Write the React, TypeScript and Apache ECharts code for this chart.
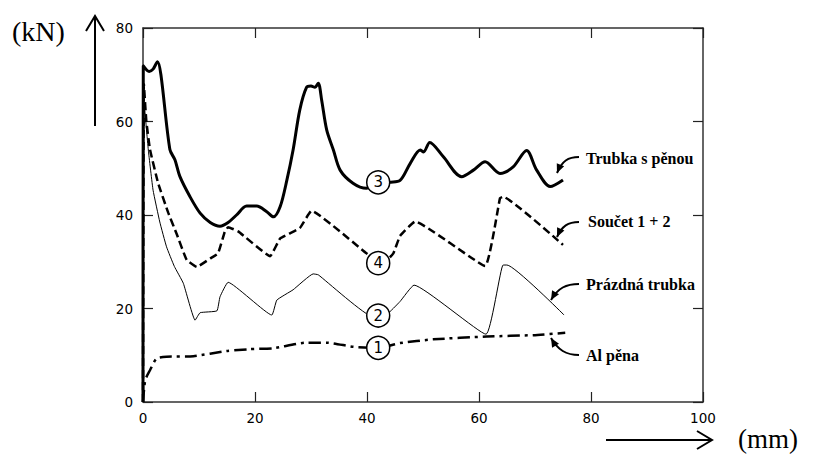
import React, { useEffect, useRef } from "react";
import * as echarts from "echarts";

// ---- data (x in mm, y in kN) ----
const foamX = [0, 0.4, 1.25, 2.4, 4.2, 9, 14.9, 19.1, 23.3, 29.2, 32.8, 37.6, 42, 45.9, 51.8, 61.4, 69.7, 75.4];
const foamY = [0, 4.7, 6.8, 9.3, 9.7, 9.8, 10.9, 11.3, 11.5, 12.7, 12.7, 11.8, 11.6, 12.6, 13.4, 14.0, 14.3, 14.8];

const emptyX = [0, 0.2, 0.95, 1.8, 3, 4.2, 5.6, 7.2, 9.3, 10.2, 13.2, 13.75, 15.2, 23, 23.9, 26.8, 30.4, 31.3, 41.1, 43.5, 45.9, 48.4, 61.25, 64.3, 65, 75.2];
const emptyY = [0, 64, 53.9, 45.3, 38.5, 33.2, 29, 25.4, 17.5, 19.1, 19.5, 22.5, 25.6, 18.6, 21.8, 24, 27.4, 27.2, 18.2, 18.7, 21.5, 25, 14.5, 29.3, 29.3, 18.6];

const filledX = [0, 0.05, 1.1, 1.8, 2.6, 3.2, 4.8, 5.7, 6.6, 8.4, 10.2, 12, 13.75, 15.2, 16.7, 18.5, 20.3, 22.1, 23.3, 24.5, 25.7, 26.8, 28, 29.2, 30, 30.7, 31.3, 31.9, 32.8, 34, 35.2, 37.5, 39.9, 42, 44, 45.9, 47.7, 49.5, 50.1, 51.2, 53.6, 56.9, 59, 61.1, 63.75, 66.1, 68.5, 70.3, 72.7, 75];
const filledY = [0, 71.9, 70.7, 71.2, 72.8, 70, 54, 51.8, 48.2, 43.9, 40.4, 38.4, 37.6, 38.4, 40, 41.9, 41.9, 40.7, 39.6, 41.8, 47.5, 53.9, 62.5, 67.3, 67.6, 67.3, 68.2, 64.6, 58.2, 53.9, 49.6, 46.8, 45.7, 46.5, 47, 47.4, 51, 53.9, 53.5, 55.5, 52.5, 48.2, 49.6, 51.4, 48.9, 50.3, 53.8, 49.6, 46.1, 47.5];

const sumX = [0, 0.15, 0.6, 1.25, 2.7, 4.5, 6, 7.8, 9.6, 12, 13.4, 14.6, 15.2, 17, 22.7, 24.5, 28, 30.1, 39.9, 42.8, 44.7, 45.9, 48.6, 61.1, 63.75, 64.3, 75];
const sumY = [0, 68, 60, 54, 46.8, 40.5, 36, 30.4, 28.9, 30.7, 31.8, 36.4, 37.4, 36.5, 31.2, 35, 37.2, 40.9, 31.8, 29.5, 31.8, 35.5, 38.6, 29.1, 43.6, 43.9, 33.6];

const circleLabels = ["1", "2", "3", "4"];
const circleX = [42, 42, 42, 42];
const circleY = [11.6, 18.5, 47, 29.7];

const seriesNames = ["Al pěna", "Prázdná trubka", "Trubka s pěnou", "Součet 1 + 2"];
const xTickLabels = [0, 20, 40, 60, 80, 100];
const yTickLabels = [0, 20, 40, 60, 80];

const zip = (xs: number[], ys: number[]) => xs.map((x, i) => [x, ys[i]]);

type P = [number, number];
function arrowHead(tip: P, from: P, len = 9, half = 4) {
  const dx = tip[0] - from[0];
  const dy = tip[1] - from[1];
  const l = Math.hypot(dx, dy) || 1;
  const ux = dx / l, uy = dy / l;
  const bx = tip[0] - ux * len, by = tip[1] - uy * len;
  const px = -uy, py = ux;
  return [tip, [bx + px * half, by + py * half], [bx - px * half, by - py * half]];
}

function curvedArrow(tail: P, c1: P, c2: P, tip: P) {
  return [
    {
      type: "bezierCurve",
      shape: { x1: tail[0], y1: tail[1], cpx1: c1[0], cpy1: c1[1], cpx2: c2[0], cpy2: c2[1], x2: tip[0], y2: tip[1] },
      style: { stroke: "#000", lineWidth: 2, fill: "none" },
      z: 10,
    },
    { type: "polygon", shape: { points: arrowHead(tip, c2) }, style: { fill: "#000" }, z: 10 },
  ];
}

const annoFont = { fontFamily: "Liberation Serif", fontWeight: "bold", fontSize: 16, fill: "#000" };

export default function App() {
  const ref = useRef<HTMLDivElement>(null);
  useEffect(() => {
    if (!ref.current) return;
    const chart = echarts.init(ref.current, null, { renderer: "svg" });
    const axisLabelStyle = { color: "#000", fontFamily: "DejaVu Sans", fontSize: 13.5 };
    const common = {
      type: "value",
      splitLine: { show: false },
      axisLine: { show: true, onZero: false, lineStyle: { color: "#333", width: 1.5 } },
      axisTick: { show: true, inside: true, length: 10, lineStyle: { color: "#222", width: 1.2 } },
    };
    chart.setOption({
      animation: false,
      backgroundColor: "#fff",
      grid: { left: 143, top: 28, width: 560, height: 374, containLabel: false },
      xAxis: [
        { ...common, position: "bottom", min: 0, max: 100, interval: 20,
          axisLabel: { ...axisLabelStyle, margin: 9, formatter: (v: number) => (xTickLabels.includes(v) ? String(v) : "") } },
        { ...common, position: "top", min: 0, max: 100, interval: 20, axisLabel: { show: false } },
      ],
      yAxis: [
        { ...common, position: "left", min: 0, max: 80, interval: 20,
          axisLabel: { ...axisLabelStyle, margin: 10, formatter: (v: number) => (yTickLabels.includes(v) ? String(v) : "") } },
        { ...common, position: "right", min: 0, max: 80, interval: 20, axisLabel: { show: false } },
      ],
      series: [
        { name: seriesNames[0], type: "line", data: zip(foamX, foamY), showSymbol: false, symbol: "none", smooth: 0.2,
          lineStyle: { color: "#000", width: 2.5, type: [12, 5, 3, 5] }, z: 3 },
        { name: seriesNames[1], type: "line", data: zip(emptyX, emptyY), showSymbol: false, symbol: "none", smooth: 0.12,
          lineStyle: { color: "#000", width: 1 }, z: 3 },
        { name: seriesNames[2], type: "line", data: zip(filledX, filledY), showSymbol: false, symbol: "none", smooth: 0.3,
          lineStyle: { color: "#000", width: 3 }, z: 3 },
        { name: seriesNames[3], type: "line", data: zip(sumX, sumY), showSymbol: false, symbol: "none", smooth: 0.1,
          lineStyle: { color: "#000", width: 2.5, type: [8, 4] }, z: 3 },
        { type: "scatter", symbol: "circle", symbolSize: 23, z: 5,
          data: circleX.map((x, i) => ({ value: [x, circleY[i]], name: circleLabels[i] })),
          itemStyle: { color: "#fff", borderColor: "#000", borderWidth: 1.5, opacity: 1 },
          label: { show: true, position: "inside", formatter: (p: any) => p.name, color: "#000",
            fontFamily: "DejaVu Sans", fontSize: 15 } },
      ],
      graphic: [
        // axis quantity labels and arrows
        { type: "text", left: 12, top: 17, style: { text: "(kN)", fontFamily: "Liberation Serif", fontSize: 28, fill: "#000" } },
        { type: "line", shape: { x1: 95, y1: 126, x2: 95, y2: 17 }, style: { stroke: "#000", lineWidth: 2 } },
        { type: "polyline", shape: { points: [[86, 31], [95, 16], [104, 31]] }, style: { stroke: "#000", lineWidth: 2, fill: "none" } },
        { type: "line", shape: { x1: 606, y1: 440, x2: 711, y2: 440 }, style: { stroke: "#000", lineWidth: 2 } },
        { type: "polyline", shape: { points: [[697, 431], [712, 440], [697, 449]] }, style: { stroke: "#000", lineWidth: 2, fill: "none" } },
        { type: "text", left: 738, top: 425, style: { text: "(mm)", fontFamily: "Liberation Serif", fontSize: 27, fill: "#000" } },
        // annotations
        { type: "text", x: 586, y: 158, style: { text: seriesNames[2], ...annoFont, verticalAlign: "middle", align: "left" } },
        { type: "text", x: 588, y: 221, style: { text: seriesNames[3], ...annoFont, verticalAlign: "middle", align: "left" } },
        { type: "text", x: 586, y: 284, style: { text: seriesNames[1], ...annoFont, verticalAlign: "middle", align: "left" } },
        { type: "text", x: 586, y: 355, style: { text: seriesNames[0], ...annoFont, verticalAlign: "middle", align: "left" } },
        ...curvedArrow([579, 157], [568, 157], [562, 161], [557, 173]),
        ...curvedArrow([579, 222], [568, 222], [562, 226], [557, 237]),
        ...curvedArrow([579, 284], [566, 284], [558, 288], [551, 300]),
        ...curvedArrow([579, 355], [566, 355], [558, 350], [551, 338]),
      ],
    });
    return () => chart.dispose();
  }, []);
  return <div ref={ref} style={{ position: "absolute", left: 0, top: 0, width: 821, height: 455 }} />;
}
